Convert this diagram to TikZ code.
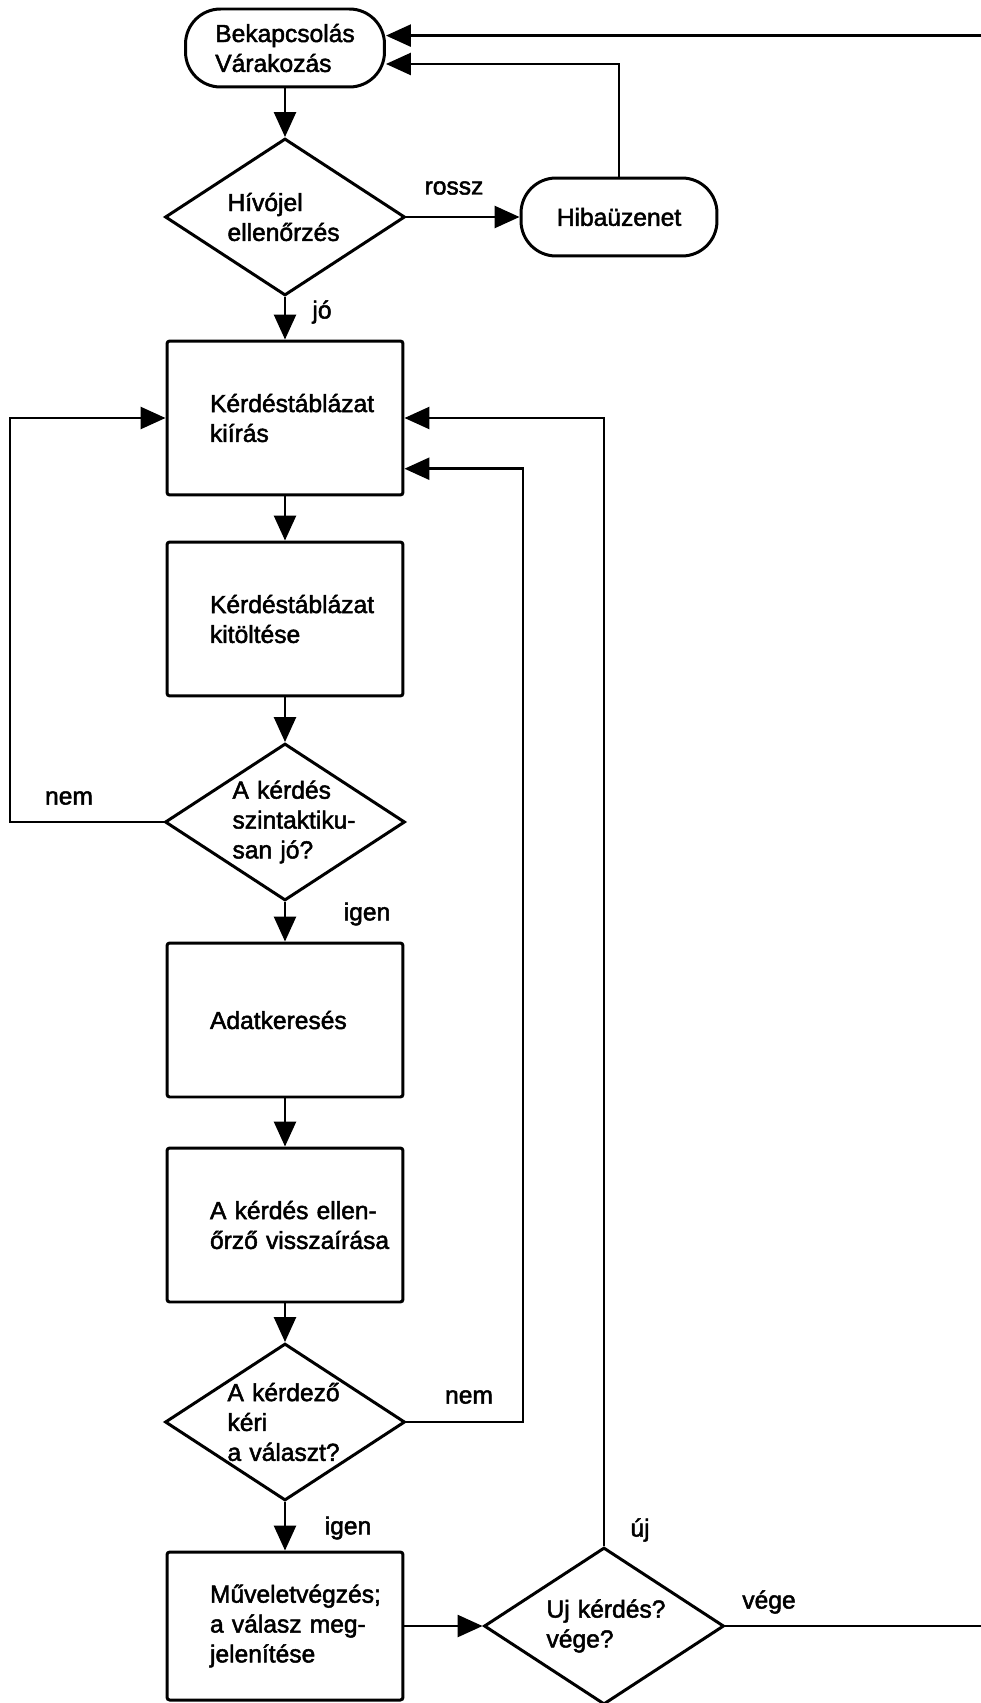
\documentclass[tikz,border=0pt]{standalone}
\usepackage{fontspec}
\setmainfont{Liberation Sans}[FakeBold=2]
\usetikzlibrary{arrows.meta,shapes.geometric}
\hyphenpenalty=10000
\exhyphenpenalty=10000

\begin{document}
\begin{tikzpicture}[x=0.02cm,y=-0.02cm,
  every node/.style={font=\fontsize{14}{17}\selectfont},
  termbox/.style={draw, rectangle, rounded corners=0.7cm, line width=1.7pt,
    minimum width=3.98cm, minimum height=1.56cm, align=left},
  procbox/.style={draw, rectangle, rounded corners=1.5pt, line width=1.7pt,
    minimum width=4.72cm, minimum height=3.08cm, text width=3.0cm, align=left},
  decbox/.style={draw, diamond, line width=1.7pt, minimum width=4.8cm,
    minimum height=3.14cm, inner sep=-0.5cm, text width=2.3cm, align=left},
  conn/.style={line width=1.5pt},
  arr/.style={conn, -{Triangle[length=0.5cm, width=0.44cm]}}]

%\draw [step=100, dotted] (0,0) grid (980,1703);
\useasboundingbox (0,0) rectangle (980,1703);

\node [termbox] (start) at (285,48) {Bekapcsolás\\Várakozás};
\node [decbox] (d1) at (285,217) {Hívójel\\ellenőrzés};
\node [termbox, minimum width=3.92cm] (hiba) at (619,217) {Hibaüzenet};
\node [procbox] (box1) at (285,418) {Kérdéstáblázat\\kiírás};
\node [procbox] (box2) at (285,619) {Kérdéstáblázat\\kitöltése};
\node [decbox, text width=2.1cm] (d2) at (285,822) {A~kérdés\\szintaktiku-\\san~jó?};
\node [procbox] (box3) at (285,1020) {Adatkeresés};
\node [procbox] (box4) at (285,1225) {A~kérdés~ellen-\\őrző~visszaírása};
\node [decbox] (d4) at (285,1422) {A~kérdező\\kéri\\a~választ?};
\node [procbox, minimum height=2.96cm] (box5) at (285,1626) {Műveletvégzés;\\a~válasz~meg-\\jelenítése};
\node [decbox] (d5) at (604,1626) {Uj~kérdés?\\vége?};

\coordinate (leftrail) at (10,822);
\coordinate (rail2) at (523,1422);
\coordinate (farright) at (1000,1626);

\draw [arr] (start.south) -- (d1.north);
\draw [arr] (d1.east) -- (hiba.west);
\draw [arr] (hiba.north) |- (start.-9);
\draw [arr] (d1.south) -- (box1.north);
\draw [arr] (box1.south) -- (box2.north);
\draw [arr] (box2.south) -- (d2.north);
\draw [arr] (d2.west) -- (leftrail) |- (box1.west);
\draw [arr] (d2.south) -- (box3.north);
\draw [arr] (box3.south) -- (box4.north);
\draw [arr] (box4.south) -- (d4.north);
\draw [arr] (d4.east) -- (rail2) |- (box1.-23);
\draw [arr] (d4.south) -- (box5.north);
\draw [arr] (box5.east) -- (d5.west);
\draw [arr] (d5.north) |- (box1.east);
\draw [arr] (d5.east) -- (farright) |- (start.7);

\node (lrossz) at (454,188) {rossz};
\node (ljo) at (322,312) {jó};
\node (lnem1) at (69,798) {nem};
\node (ligen1) at (367,914) {igen};
\node (lnem2) at (469,1397) {nem};
\node (ligen2) at (348,1528) {igen};
\node (luj) at (640,1530) {új};
\node (lvege) at (769,1602) {vége};

\end{tikzpicture}
\end{document}
